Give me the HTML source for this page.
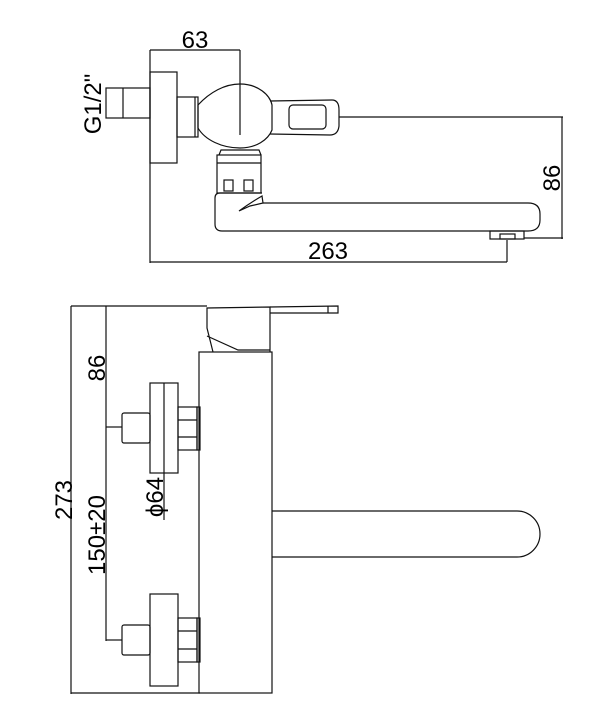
<!DOCTYPE html>
<html><head><style>
html,body{margin:0;padding:0;background:#fff;}
svg{display:block;}
text{font-family:"Liberation Sans","DejaVu Sans",sans-serif;fill:#000;}
</style></head><body>
<svg width="604" height="726" viewBox="0 0 604 726" xmlns="http://www.w3.org/2000/svg">
<g fill="none" stroke="#111" stroke-width="1.2">
<line x1="150" y1="50" x2="240" y2="50"/>
<line x1="150" y1="50" x2="150" y2="263"/>
<line x1="240" y1="50" x2="240" y2="135"/>
<line x1="150" y1="262" x2="507" y2="262"/>
<line x1="507" y1="240" x2="507" y2="262"/>
<line x1="339" y1="117" x2="563" y2="117"/>
<line x1="562" y1="117" x2="562" y2="239"/>
<line x1="524" y1="238" x2="563" y2="238"/>
<rect x="106" y="88" width="44" height="30"/>
<line x1="123" y1="88" x2="123" y2="118"/>
<rect x="150" y="72" width="27" height="91"/>
<rect x="177" y="97" width="21" height="40"/>
<line x1="195" y1="97" x2="195" y2="137"/>
<path d="M198,105 C210,92 225,84 240,84 C258,84 270,95 272,105 L272,130 C268,140 256,148 240,148 C222,148 205,140 198,128 Z"/>
<path d="M270,101 L332,100 Q339,100 339,110 L339,126 Q338,135 330,135 L270,134"/>
<rect x="289" y="105" width="37" height="24" rx="4"/>
<path d="M219,155 L221,150 L259,150 L261,155"/>
<rect x="217" y="155" width="44" height="38"/>
<line x1="217" y1="163" x2="261" y2="163"/>
<rect x="224" y="180" width="9" height="11"/>
<rect x="244" y="180" width="9" height="11"/>
<path d="M262,193 L220,193 Q215,193 215,198 L215,224 Q215,231 222,231 L528,231 Q540,231 540,220 L540,214 Q540,203 528,203 L263,203"/>
<path d="M263,203 L262,196 Q250,203 239,211 L250,206 Z"/>
<rect x="490" y="231" width="34" height="8"/>
<rect x="500" y="234" width="15" height="5"/>
<line x1="71" y1="306" x2="207" y2="306"/>
<line x1="71" y1="306" x2="71" y2="694"/>
<line x1="71" y1="693" x2="200" y2="693"/>
<line x1="106" y1="306" x2="106" y2="641"/>
<line x1="106" y1="427" x2="122" y2="427"/>
<line x1="106" y1="640" x2="122" y2="640"/>
<rect x="199" y="352" width="73" height="341"/>
<path d="M213,352 L207,328 L207,308 L270,307 L270,352"/>
<path d="M207,336 L238,350 L270,350"/>
<path d="M270,307 L338,306 L338,313 L270,313"/>
<line x1="328" y1="306" x2="328" y2="313"/>
<rect x="150" y="383" width="28" height="90"/>
<line x1="164" y1="383" x2="164" y2="520"/>
<rect x="122" y="413" width="28" height="30" rx="2"/>
<rect x="178" y="407" width="19" height="43"/>
<line x1="178" y1="420" x2="197" y2="420"/>
<line x1="178" y1="437" x2="197" y2="437"/>
<rect x="197" y="407" width="3" height="43"/>
<rect x="150" y="594" width="28" height="92"/>
<rect x="122" y="625" width="28" height="30" rx="2"/>
<rect x="178" y="618" width="19" height="44"/>
<line x1="178" y1="631" x2="197" y2="631"/>
<line x1="178" y1="649" x2="197" y2="649"/>
<rect x="197" y="618" width="3" height="44"/>
<path d="M272,511 L517,511 A23,23 0 0 1 517,557 L272,557"/>
</g>
<g font-size="24">
<text x="195" y="48" text-anchor="middle">63</text>
<text x="328" y="259" text-anchor="middle">263</text>
<text transform="translate(101,104) rotate(-90)" text-anchor="middle">G1/2"</text>
<text transform="translate(560,178) rotate(-90)" text-anchor="middle">86</text>
<text transform="translate(72,500) rotate(-90)" text-anchor="middle">273</text>
<text transform="translate(105,368) rotate(-90)" text-anchor="middle">86</text>
<text transform="translate(105,535) rotate(-90)" text-anchor="middle">150±20</text>
<text transform="translate(163,497) rotate(-90)" text-anchor="middle">ϕ64</text>
</g>
</svg>
</body></html>
